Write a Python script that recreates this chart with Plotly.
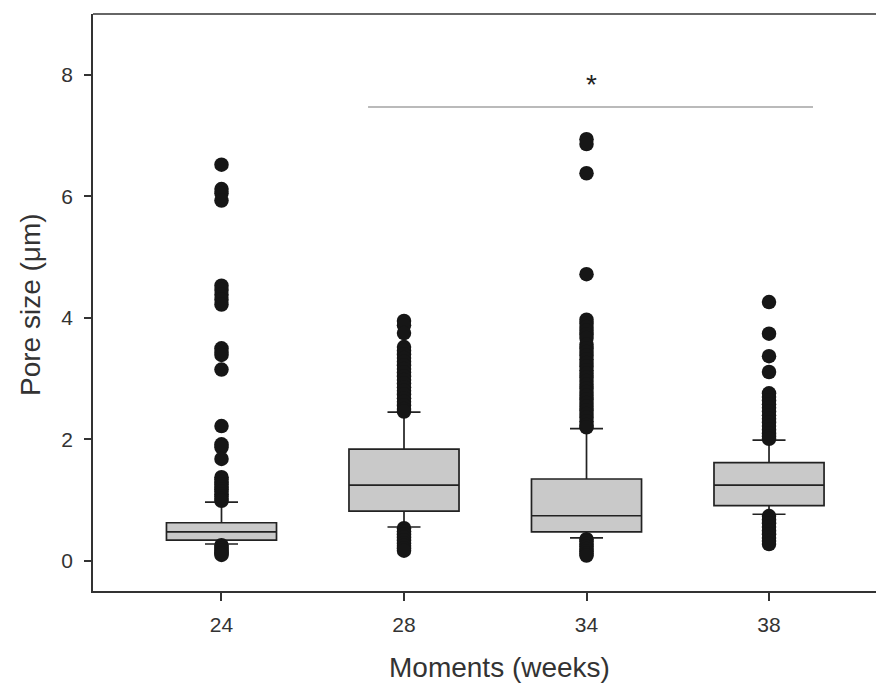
import plotly.graph_objects as go

categories = ["24", "28", "34", "38"]

q1 = [0.345, 0.82, 0.48, 0.91]
median = [0.48, 1.25, 0.745, 1.25]
q3 = [0.63, 1.84, 1.35, 1.62]
lower_whisker = [0.28, 0.56, 0.38, 0.77]
upper_whisker = [0.97, 2.45, 2.18, 1.99]

outliers_24 = [6.52, 6.12, 6.05, 5.93, 4.53, 4.46, 4.38, 4.30, 4.22,
               3.50, 3.44, 3.39, 3.15, 2.22, 1.92, 1.87, 1.68,
               1.38, 1.34, 1.30, 1.26, 1.22, 1.18, 1.14, 1.10, 1.06, 1.02, 0.99,
               0.26, 0.23, 0.20, 0.17, 0.14, 0.12, 0.10]
outliers_28 = [3.95, 3.88, 3.75, 3.52, 3.46, 3.40, 3.34, 3.28, 3.22, 3.16,
               3.10, 3.04, 2.98, 2.92, 2.86, 2.80, 2.74, 2.68, 2.62, 2.56,
               2.50, 2.46,
               0.54, 0.49, 0.44, 0.39, 0.34, 0.29, 0.25, 0.21, 0.17]
outliers_34 = [6.94, 6.86, 6.38, 4.72, 3.97, 3.91, 3.85, 3.79, 3.73, 3.67,
               3.56, 3.50, 3.44, 3.38, 3.32, 3.26, 3.20, 3.14, 3.08, 3.02,
               2.96, 2.90, 2.84, 2.78, 2.72, 2.66, 2.60, 2.54, 2.48, 2.42,
               2.36, 2.30, 2.24, 2.20,
               0.36, 0.32, 0.28, 0.24, 0.20, 0.16, 0.12, 0.09]
outliers_38 = [4.26, 3.74, 3.37, 3.11, 2.76, 2.70, 2.64, 2.58, 2.52, 2.46,
               2.40, 2.34, 2.28, 2.22, 2.16, 2.10, 2.05, 2.01,
               0.74, 0.68, 0.62, 0.56, 0.50, 0.44, 0.38, 0.33, 0.28]
outliers = [outliers_24, outliers_28, outliers_34, outliers_38]

sig_start, sig_end, sig_level = 0.803, 3.241, 7.47
sig_label = "*"
sig_label_pos = 2.025

x_title = "Moments (weeks)"
y_title = "Pore size (μm)"
y_ticks = [0, 2, 4, 6, 8]

FONT = "Liberation Sans, Arial, sans-serif"

fig = go.Figure()

for cat, a, m, b, lo, hi in zip(categories, q1, median, q3, lower_whisker, upper_whisker):
    fig.add_trace(go.Box(
        x=[cat], q1=[a], median=[m], q3=[b], lowerfence=[lo], upperfence=[hi],
        width=0.603, whiskerwidth=0.3,
        fillcolor="#c9c9c9",
        line=dict(color="#222222", width=1.7),
        boxpoints=False, showlegend=False, hoverinfo="skip",
    ))

for cat, pts in zip(categories, outliers):
    fig.add_trace(go.Scatter(
        x=[cat] * len(pts), y=pts, mode="markers",
        marker=dict(size=14.5, color="#161616", line=dict(width=0)),
        showlegend=False, hoverinfo="skip",
    ))

fig.add_shape(type="line", xref="x", yref="y",
              x0=sig_start, x1=sig_end, y0=sig_level, y1=sig_level,
              line=dict(color="#777777", width=1.2))
fig.add_annotation(x=sig_label_pos, y=sig_level + 0.09, xref="x", yref="y",
                   text=sig_label, showarrow=False, yanchor="bottom",
                   font=dict(family=FONT, size=28, color="#222222"))
# top frame line
fig.add_shape(type="line", xref="paper", yref="paper", x0=0, x1=1, y0=1, y1=1,
              line=dict(color="#333333", width=1.6))

# axis titles
fig.add_annotation(x=0.5145, y=0, xref="paper", yref="paper", yshift=-76,
                   text=x_title, showarrow=False, xanchor="center", yanchor="middle",
                   font=dict(family=FONT, size=28, color="#333333"))
fig.add_annotation(x=0, y=0.4957, xref="paper", yref="paper", xshift=-62,
                   text=y_title, showarrow=False, textangle=-90,
                   xanchor="center", yanchor="middle",
                   font=dict(family=FONT, size=28, color="#333333"))

fig.update_layout(
    width=876, height=676,
    margin=dict(l=85, r=0, t=6, b=93),
    paper_bgcolor="white", plot_bgcolor="white",
    font=dict(family=FONT, color="#333333"),
    xaxis=dict(
        type="category", range=[-0.704, 3.630],
        showline=True, linecolor="#333333", linewidth=1.6,
        ticks="outside", ticklen=8, tickwidth=1.6, tickcolor="#333333",
        tickfont=dict(size=21, family=FONT, color="#333333"),
        ticklabelstandoff=6,
        showgrid=False, zeroline=False,
    ),
    yaxis=dict(
        range=[-0.493, 9.0], tickvals=y_ticks,
        showline=True, linecolor="#333333", linewidth=1.6,
        ticks="outside", ticklen=7, tickwidth=1.6, tickcolor="#333333",
        tickfont=dict(size=21, family=FONT, color="#333333"),
        ticklabelstandoff=7,
        showgrid=False, zeroline=False,
    ),
)

fig.write_html("out.html")
